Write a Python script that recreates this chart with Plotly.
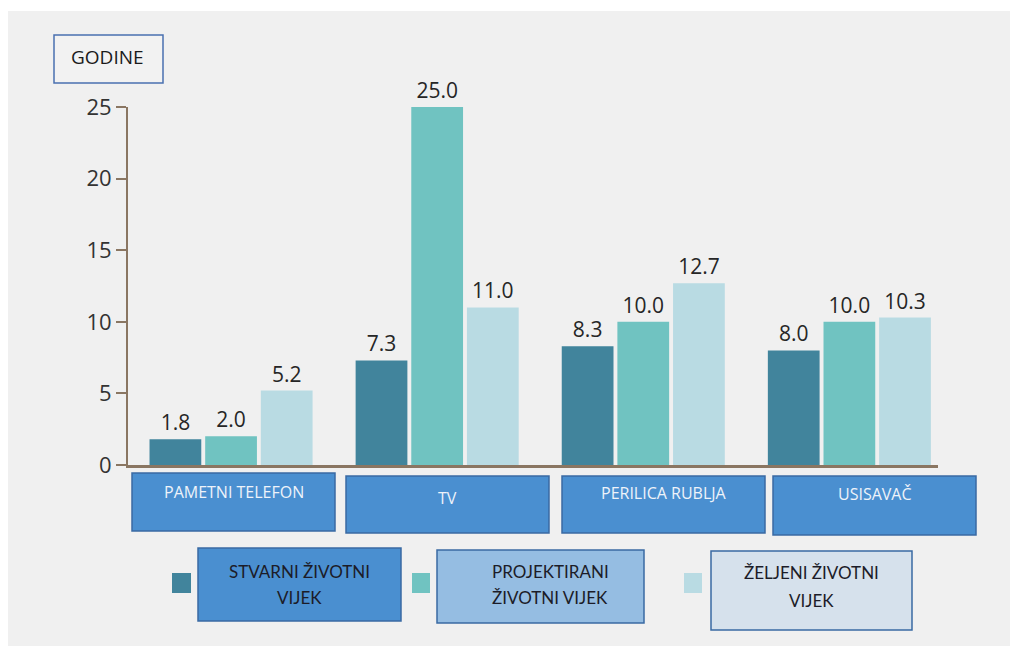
import plotly.graph_objects as go

categories = ['PAMETNI TELEFON', 'TV', 'PERILICA RUBLJA', 'USISAVAČ']
series_names = ['STVARNI ŽIVOTNI VIJEK', 'PROJEKTIRANI ŽIVOTNI VIJEK', 'ŽELJENI ŽIVOTNI VIJEK']
legend_lines = [('STVARNI ŽIVOTNI', 'VIJEK'), ('PROJEKTIRANI', 'ŽIVOTNI VIJEK'), ('ŽELJENI ŽIVOTNI', 'VIJEK')]
stvarni = [1.8, 7.3, 8.3, 8.0]
projektirani = [2.0, 25.0, 10.0, 10.0]
zeljeni = [5.2, 11.0, 12.7, 10.3]
y_ticks = [0, 5, 10, 15, 20, 25]
unit_label = 'GODINE'

colors = ['#41849c', '#70c3c1', '#b9dbe3']
axis_col = '#8a7662'
OFF = 8                      # page body margin
W, H = 1018 - OFF, 646 - OFF
L, R, T, B = 128, 938, 107, 465   # plot area, screen pixels


def px(x, y):
    """screen pixel -> paper coords"""
    return (x - L) / (R - L), (B - y) / (B - T)


fig = go.Figure()
for name, vals, col in zip(series_names, [stvarni, projektirani, zeljeni], colors):
    fig.add_trace(go.Bar(
        x=categories, y=vals, name=name,
        marker=dict(color=col, line=dict(width=0)),
        texttemplate='%{y:.1f}', textposition='outside',
        textfont=dict(family='Open Sans', size=21, color='#262626'),
        cliponaxis=False,
    ))

shapes = []
annotations = []

# grey page background
x0, y0 = px(OFF, 11)
x1, y1 = px(1018, 646)
shapes.append(dict(type='rect', xref='paper', yref='paper', x0=x0, y0=y0, x1=x1, y1=y1,
                   fillcolor='#f0f0f0', line=dict(width=0), layer='below'))


def box(x_a, y_a, x_b, y_b, fill, border, bw=1.5):
    a = px(x_a, y_a)
    b = px(x_b, y_b)
    shapes.append(dict(type='rect', xref='paper', yref='paper', x0=a[0], y0=a[1], x1=b[0], y1=b[1],
                       fillcolor=fill, line=dict(color=border, width=bw)))


def label(text, x, y, color, size=15, family='Lato'):
    p = px(x, y)
    annotations.append(dict(text=text, xref='paper', yref='paper', x=p[0], y=p[1],
                            xanchor='center', yanchor='middle', showarrow=False,
                            font=dict(family=family, size=size, color=color)))


# GODINE box
box(54, 35, 163, 83, '#f2f2f2', '#4a70b0')
label(unit_label, 107, 57, '#1a1a1a', size=19, family='Open Sans')

# category boxes
cat_boxes = [(132, 473, 335, 531, 492), (346, 476, 549, 533, 498),
             (562, 476, 765, 533, 493), (773, 476, 976, 535, 494)]
for cat, (xa, ya, xb, yb, ty) in zip(categories, cat_boxes):
    box(xa, ya, xb, yb, '#4a8fd0', '#3a6aa3')
    label(cat, (xa + xb) / 2, ty, '#eef3fa', size=16, family='Open Sans')

# legend boxes: box, text x, first/second line y
leg_boxes = [(198, 548, 401, 621, '#4a8fd0', 299, 571, 597),
             (437, 550, 644, 623, '#95bde2', 550, 571, 597),
             (711, 551, 912, 630, '#d6e1ec', 811, 572, 600)]
squares = [(172, 191), (412, 430), (684, 702)]
for lines, col, (xa, ya, xb, yb, fill, tx, l1, l2), (sa, sb) in zip(legend_lines, colors, leg_boxes, squares):
    box(xa, ya, xb, yb, fill, '#3a6aa3')
    box(sa, 573, sb, 593, col, col, bw=0)
    label(lines[0], tx, l1, '#1c1c28', size=17)
    label(lines[1], tx, l2, '#1c1c28', size=17)

fig.update_layout(
    width=W, height=H,
    margin=dict(l=L - OFF, r=1018 - R, t=T - OFF, b=646 - B, autoexpand=False),
    paper_bgcolor='white', plot_bgcolor='rgba(0,0,0,0)',
    barmode='group', bargap=0.19, bargroupgap=0.07,
    showlegend=False,
    shapes=shapes, annotations=annotations,
    xaxis=dict(range=[-0.5, 3.43], showticklabels=False, ticks='', showgrid=False,
               showline=True, linecolor=axis_col, linewidth=3, zeroline=False),
    yaxis=dict(range=[0, 25], tickvals=y_ticks, ticks='outside', ticklen=10,
               tickcolor=axis_col, tickwidth=2, showline=True, linecolor=axis_col, linewidth=2,
               showgrid=False, zeroline=False,
               tickfont=dict(family='Open Sans', size=22, color='#333333')),
)

fig.write_html('out.html')
